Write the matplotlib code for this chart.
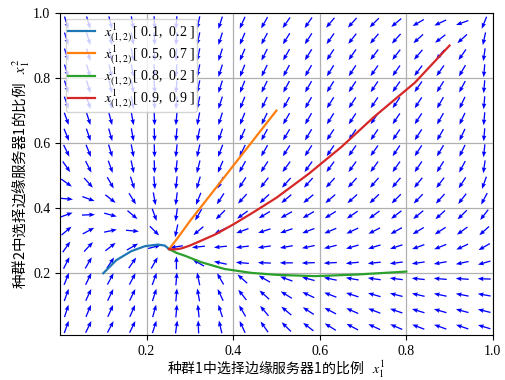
import matplotlib
matplotlib.use("Agg")
import matplotlib.pyplot as plt
import numpy as np

plt.rcParams["font.family"] = ["Liberation Serif", "Noto Sans CJK SC"]
plt.rcParams["mathtext.fontset"] = "stix"
plt.rcParams["axes.unicode_minus"] = False

# direction field: arrow angle in degrees, rows top (y~0.97) -> bottom (y~0.035)
ANGLES = [
    [288, 287, 284, 280, 273, 266, 258, 252, 246, 240, 235, 235, 230, 228, 225, 220, 210, 205, 200, 248],
    [288, 287, 284, 280, 273, 266, 258, 252, 247, 242, 238, 237, 235, 232, 230, 228, 222, 218, 222, 258],
    [288, 287, 284, 280, 273, 266, 258, 252, 247, 243, 240, 238, 237, 235, 233, 232, 230, 230, 235, 262],
    [288, 287, 284, 280, 273, 266, 258, 252, 248, 244, 242, 240, 238, 237, 235, 235, 233, 235, 240, 265],
    [288, 287, 284, 280, 273, 266, 258, 252, 248, 244, 242, 240, 238, 237, 236, 235, 235, 238, 242, 265],
    [289, 288, 285, 280, 273, 266, 258, 252, 248, 244, 241, 240, 238, 237, 236, 236, 237, 240, 245, 265],
    [290, 288, 285, 280, 272, 265, 259, 252, 248, 244, 240, 240, 238, 237, 236, 236, 237, 240, 245, 265],
    [292, 289, 286, 280, 272, 265, 258, 251, 246, 242, 239, 239, 237, 236, 236, 236, 237, 240, 245, 265],
    [296, 292, 287, 281, 272, 264, 257, 249, 244, 240, 237, 237, 236, 235, 235, 236, 237, 239, 244, 264],
    [305, 297, 290, 282, 272, 264, 256, 247, 241, 237, 234, 234, 234, 234, 234, 235, 236, 238, 242, 262],
    [325, 312, 300, 288, 275, 264, 253, 244, 237, 232, 228, 228, 228, 228, 229, 230, 231, 233, 237, 250],
    [355, 340, 322, 302, 280, 263, 248, 237, 228, 223, 220, 220, 221, 222, 224, 225, 226, 228, 232, 242],
    [20, 2, 345, 320, 290, 262, 240, 225, 216, 211, 209, 210, 212, 214, 216, 218, 220, 222, 225, 232],
    [40, 28, 12, 355, 315, 258, 220, 206, 200, 198, 199, 201, 203, 205, 207, 209, 211, 213, 216, 222],
    [55, 47, 38, 30, 15, 190, 186, 186, 187, 188, 190, 192, 194, 196, 197, 198, 200, 202, 205, 210],
    [63, 60, 56, 55, 60, 90, 150, 168, 175, 178, 180, 182, 183, 185, 186, 187, 188, 190, 192, 196],
    [68, 64, 62, 62, 70, 85, 102, 120, 138, 150, 160, 165, 168, 170, 172, 173, 174, 175, 176, 178],
    [70, 65, 64, 64, 72, 85, 100, 115, 128, 138, 148, 155, 159, 162, 164, 166, 167, 168, 169, 170],
    [72, 67, 66, 66, 74, 85, 96, 108, 120, 130, 140, 147, 152, 156, 159, 161, 163, 164, 165, 166],
    [70, 64, 62, 64, 72, 82, 92, 103, 115, 125, 135, 142, 148, 152, 155, 157, 159, 160, 161, 163],
]

# trajectories
BLUE_X = [0.10, 0.13, 0.165, 0.196, 0.226, 0.242, 0.252]
BLUE_Y = [0.20, 0.24, 0.268, 0.283, 0.288, 0.285, 0.274]
ORANGE_X = [0.50, 0.45, 0.40, 0.35, 0.30, 0.27, 0.252]
ORANGE_Y = [0.70, 0.615, 0.53, 0.445, 0.36, 0.305, 0.274]
GREEN_X = [0.80, 0.687, 0.59, 0.50, 0.442, 0.38, 0.326, 0.288, 0.27, 0.252]
GREEN_Y = [0.205, 0.196, 0.191, 0.195, 0.201, 0.213, 0.234, 0.254, 0.262, 0.274]
RED_X = [0.90, 0.82, 0.725, 0.65, 0.575, 0.50, 0.45, 0.403, 0.36, 0.326, 0.30, 0.28, 0.265, 0.252]
RED_Y = [0.90, 0.786, 0.68, 0.588, 0.506, 0.432, 0.39, 0.352, 0.32, 0.30, 0.285, 0.276, 0.273, 0.274]

LABELS = [
    r"$x^{1}_{(1,2)}\,$[ 0.1,  0.2 ]",
    r"$x^{1}_{(1,2)}\,$[ 0.5,  0.7 ]",
    r"$x^{1}_{(1,2)}\,$[ 0.8,  0.2 ]",
    r"$x^{1}_{(1,2)}\,$[ 0.9,  0.9 ]",
]
TICKS = [0.2, 0.4, 0.6, 0.8, 1.0]
XLABEL = "种群1中选择边缘服务器1的比例   $x^1_1$"
YLABEL = "种群2中选择边缘服务器1的比例   $x^2_1$"


def main():
    fig = plt.figure(figsize=(5.06, 3.8), dpi=100)
    ax = fig.add_axes([0.1186, 0.1184, 0.8554, 0.8474])

    ang = np.deg2rad(np.array(ANGLES, dtype=float))
    xs = np.linspace(0.015, 0.98, 20)
    ys = np.linspace(0.97, 0.035, 20)
    X, Y = np.meshgrid(xs, ys)
    ax.quiver(X, Y, np.cos(ang), np.sin(ang), color="blue", pivot="mid",
              angles="uv", scale_units="dots", scale=1 / 13.0,
              width=0.003, headwidth=3.5, headlength=4.5, headaxislength=4,
              zorder=2)

    ax.plot(BLUE_X, BLUE_Y, color="C0", lw=1.6, label=LABELS[0], zorder=3)
    ax.plot(ORANGE_X, ORANGE_Y, color="C1", lw=1.6, label=LABELS[1], zorder=3)
    ax.plot(GREEN_X, GREEN_Y, color="C2", lw=1.6, label=LABELS[2], zorder=3)
    ax.plot(RED_X, RED_Y, color="C3", lw=1.6, label=LABELS[3], zorder=3)

    ax.set_xlim(0, 1)
    ax.set_ylim(0.01, 1)
    ax.set_xticks(TICKS)
    ax.set_yticks(TICKS)
    ax.tick_params(labelsize=10)
    ax.grid(True, color="#b0b0b0", lw=0.9)
    ax.set_axisbelow(True)

    # mathtext renders the plain part with the text's own first family
    ax.set_xlabel(XLABEL, fontsize=10, family="Noto Sans CJK SC", labelpad=1)
    ax.set_ylabel(YLABEL, fontsize=10.5, family="Noto Sans CJK SC", labelpad=1)
    ax.legend(loc="upper left", fontsize=10, labelspacing=-0.05,
              borderpad=0.15, handletextpad=0.6, borderaxespad=0.4)

    fig.savefig("out.png", dpi=100)


if __name__ == "__main__":
    main()
